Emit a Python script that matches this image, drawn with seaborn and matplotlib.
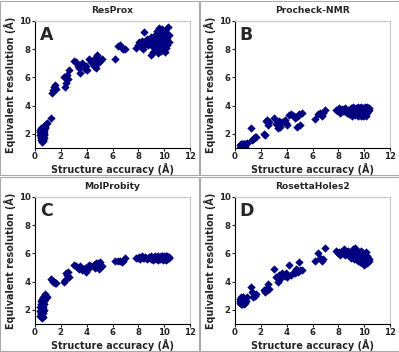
import numpy as np
import pandas as pd
import matplotlib
matplotlib.use("Agg")
import matplotlib.pyplot as plt
from matplotlib.patches import Rectangle
import seaborn as sns

sns.set_style("white")
plt.rcParams['font.family'] = ['DejaVu Sans']
plt.rcParams['font.weight'] = 'bold'

# structure accuracy (shared by all four panels)
accuracy = [0.38, 0.40, 0.42, 0.44, 0.45, 0.47, 0.48, 0.50, 0.50, 0.52,
            0.53, 0.55, 0.55, 0.57, 0.58, 0.60, 0.60, 0.62, 0.63, 0.65,
            0.65, 0.67, 0.68, 0.70, 0.72, 0.73, 0.75, 0.78, 0.80, 0.85,
            0.95, 1.20,
            1.30, 1.38, 1.45, 1.55, 1.65,
            2.25, 2.32, 2.40, 2.45, 2.52, 2.60,
            3.05, 3.20, 3.30, 3.40, 3.50, 3.60,
            3.85, 3.95, 4.05, 4.20, 4.30,
            4.55, 4.62, 4.70, 4.78, 4.85, 4.95, 5.05, 5.15,
            6.20, 6.45, 6.60, 6.75, 6.85, 7.00,
            7.85, 7.95, 8.05, 8.15, 8.25, 8.35, 8.45, 8.55, 8.65, 8.75,
            8.85, 8.95, 9.00, 9.05, 9.10, 9.15, 9.20, 9.25, 9.30, 9.35,
            9.40, 9.45, 9.50, 9.55, 9.60, 9.62, 9.65, 9.70, 9.72, 9.75,
            9.80, 9.82, 9.85, 9.90, 9.92, 9.95, 10.00, 10.02, 10.05, 10.08,
            10.10, 10.12, 10.15, 10.18, 10.20, 10.22, 10.25, 10.30, 10.35, 10.40]

resprox = [2.1, 1.9, 2.3, 1.7, 2.0, 2.4, 1.6, 1.8, 2.2, 1.5,
           2.0, 1.4, 2.3, 1.7, 2.1, 1.6, 2.4, 1.9, 1.5, 2.2,
           1.8, 2.0, 2.3, 1.7, 2.1, 1.9, 2.4, 2.5, 2.6, 2.7,
           2.8, 3.1,
           4.9, 5.1, 5.3, 5.5, 5.2,
           6.0, 5.3, 5.6, 6.2, 5.9, 6.5,
           7.2, 7.1, 6.8, 6.7, 6.3, 7.0,
           6.6, 6.8, 6.5, 7.3, 7.1,
           6.8, 7.4, 6.7, 7.6, 7.0, 7.3, 7.2, 7.3,
           7.3, 8.25, 8.3, 8.1, 8.0, 8.0,
           8.1, 8.3, 8.5, 8.2, 8.6, 8.0, 9.2, 8.4, 8.7, 8.3,
           8.5, 7.6, 8.9, 8.2, 8.6, 7.8, 8.8, 8.4, 9.0, 8.1,
           8.7, 9.3, 8.5, 7.7, 9.5, 8.9, 8.2, 9.1, 8.6, 7.9,
           8.8, 9.4, 8.3, 9.0, 8.5, 8.0, 9.2, 8.7, 7.8, 8.4,
           9.3, 8.9, 8.1, 8.6, 9.1, 8.3, 8.8, 9.6, 9.0, 8.5]

procheck = [1.0, 1.2, 0.95, 1.1, 1.25, 1.0, 1.15, 0.9, 1.3, 1.05,
            1.2, 0.95, 1.1, 1.25, 1.0, 1.15, 1.3, 1.05, 1.2, 0.9,
            1.1, 1.25, 1.0, 1.15, 1.3, 1.05, 1.2, 1.1, 1.25, 1.3,
            1.35, 2.45,
            1.6, 1.65, 1.7, 1.75, 1.8,
            2.0, 1.9, 2.9, 2.95, 2.6, 2.85,
            3.1, 2.7, 2.45, 2.9, 2.5, 2.85,
            3.0, 2.8, 2.6, 3.35, 3.4,
            3.3, 3.1, 3.2, 2.5, 3.3, 3.4, 2.6, 3.5,
            3.05, 3.4, 3.5, 3.3, 3.5, 3.7,
            3.7, 3.6, 3.8, 3.5, 3.75, 3.65, 3.6, 3.85, 3.5, 3.7,
            3.4, 3.8, 3.55, 3.3, 3.9, 3.6, 3.45, 3.75, 3.35, 3.85,
            3.5, 3.7, 3.25, 3.9, 3.6, 3.4, 3.8, 3.55, 3.3, 3.9,
            3.65, 3.45, 3.75, 3.25, 3.85, 3.5, 3.7, 3.35, 3.9, 3.6,
            3.4, 3.8, 3.3, 3.65, 3.9, 3.45, 3.75, 3.6, 3.85, 3.7]

molprobity = [1.6, 1.9, 2.2, 1.5, 1.8, 2.4, 1.7, 2.0, 2.6, 1.4,
              2.1, 2.7, 1.6, 2.3, 2.8, 1.9, 2.5, 1.5, 2.2, 2.9,
              1.8, 2.4, 2.0, 2.7, 2.6, 2.9, 3.0, 2.8, 3.1, 3.0,
              2.9, 4.2,
              4.1, 4.0, 3.95, 3.9, 3.9,
              4.0, 4.1, 4.6, 4.5, 4.7, 4.3,
              5.2, 5.1, 5.0, 4.9, 5.1, 4.8,
              5.0, 4.7, 4.8, 5.2, 5.1,
              5.2, 5.0, 5.3, 5.1, 5.3, 4.9, 5.4, 5.1,
              5.5, 5.5, 5.5, 5.4, 5.5, 5.65,
              5.7, 5.65, 5.75, 5.6, 5.8, 5.7, 5.65, 5.75, 5.6, 5.7,
              5.75, 5.6, 5.8, 5.65, 5.7, 5.55, 5.75, 5.65, 5.8, 5.6,
              5.7, 5.75, 5.55, 5.8, 5.65, 5.7, 5.6, 5.75, 5.85, 5.65,
              5.7, 5.6, 5.8, 5.55, 5.75, 5.65, 5.7, 5.8, 5.6, 5.75,
              5.65, 5.85, 5.55, 5.7, 5.8, 5.6, 5.75, 5.65, 5.7, 5.75]

rosettaholes = [2.6, 2.8, 2.5, 2.7, 2.9, 2.55, 2.75, 2.45, 2.65, 2.85,
                2.5, 2.7, 2.6, 2.8, 2.4, 2.65, 2.9, 2.55, 2.75, 2.5,
                2.7, 2.6, 2.8, 2.45, 2.65, 2.55, 2.7, 2.6, 2.5, 2.6,
                2.9, 3.6,
                3.3, 2.9, 3.1, 3.0, 3.1,
                3.4, 3.3, 3.5, 3.4, 3.8, 3.5,
                4.9, 4.3, 4.0, 4.5, 4.2, 4.6,
                4.4, 4.6, 4.3, 5.2, 4.5,
                4.7, 4.6, 4.9, 4.8, 4.7, 5.4, 4.8, 4.8,
                5.5, 6.05, 5.7, 5.5, 5.6, 6.4,
                6.2, 6.0, 6.1, 5.9, 6.2, 6.0, 6.3, 5.9, 6.1, 6.2,
                5.8, 6.0, 5.7, 6.1, 5.9, 6.3, 5.6, 6.0, 6.4, 5.8,
                5.6, 6.2, 5.9, 5.5, 6.1, 5.7, 6.0, 5.4, 5.8, 6.2,
                5.5, 5.9, 5.3, 5.7, 6.0, 5.4, 5.2, 5.6, 5.9, 5.3,
                5.7, 5.5, 6.1, 5.4, 5.8, 5.6, 5.3, 5.7, 5.5, 5.6]

titles = ["ResProx", "Procheck-NMR", "MolProbity", "RosettaHoles2"]
letters = ["A", "B", "C", "D"]
series = [resprox, procheck, molprobity, rosettaholes]

fig = plt.figure(figsize=(3.99, 3.52), dpi=100)
lefts = [35, 235, 35, 235]
tops = [21, 21, 197, 197]
W, H = 399, 352
for i in range(4):
    ax = fig.add_axes([lefts[i] / W, 1 - (tops[i] + 127) / H, 155 / W, 127 / H])
    df = pd.DataFrame({"x": accuracy, "y": series[i]})
    sns.scatterplot(data=df, x="x", y="y", ax=ax, marker="D", s=18,
                    color="#000080", linewidth=0)
    ax.set_xlim(0, 12)
    ax.set_ylim(1, 10)
    ax.set_xticks([0, 2, 4, 6, 8, 10, 12])
    ax.set_yticks([2, 4, 6, 8, 10])
    ax.tick_params(labelsize=6.2, length=2, width=0.8, direction="out",
                   bottom=True, left=True, pad=1)
    for lab in ax.get_xticklabels() + ax.get_yticklabels():
        lab.set_fontweight("bold")
    ax.set_xlabel("Structure accuracy (Å)", fontsize=6.9, fontweight="bold", labelpad=1)
    ax.set_ylabel("Equivalent resolution (Å)", fontsize=6.9, fontweight="bold", labelpad=2)
    ax.set_title(titles[i], fontsize=6.6, fontweight="bold", pad=6)
    ax.text(0.03, 0.96, letters[i], transform=ax.transAxes, fontsize=12.5,
            fontweight="bold", va="top", ha="left")
    for side in ["left", "bottom"]:
        ax.spines[side].set_color("black")
        ax.spines[side].set_linewidth(0.8)
    for side in ["top", "right"]:
        ax.spines[side].set_color("#c8c8c8")
        ax.spines[side].set_linewidth(0.8)

# panel borders
for (x0, y0) in [(0, 176), (200, 176), (0, 0), (200, 0)]:
    fig.patches.append(Rectangle((x0 / W + 0.001, y0 / H + 0.002), 199 / W - 0.002, 176 / H - 0.004,
                                 transform=fig.transFigure, fill=False,
                                 edgecolor="#aaaaaa", linewidth=0.8))

fig.savefig("out.png", dpi=100)
